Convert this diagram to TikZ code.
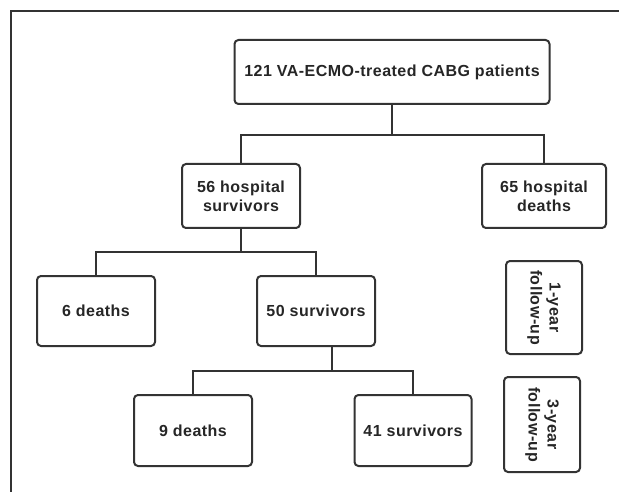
\documentclass[tikz,border=0pt]{standalone}
\usepackage{fontspec}
\setmainfont{Liberation Sans}[LetterSpace=3]
\begin{document}
\begin{tikzpicture}[x=1pt, y=-1pt,
    box/.style={draw=black!80, line width=2pt, rounded corners=4pt, fill=white,
        font=\bfseries\fontsize{16}{19}\selectfont, text=black!85, align=center, inner sep=0pt},
    link/.style={draw=black!80, line width=2pt}]
    \useasboundingbox (0,0) rectangle (619,492);

    % Frame
    \draw[black!80, line width=1.4pt] (619,11) -- (11,11) -- (11,492);

    % Hospital stage
    \node[box, minimum width=315, minimum height=64] (all) at (392,72) {121 VA-ECMO-treated CABG patients};
    \node[box, minimum width=118, minimum height=64] (hsurv) at (241,196) {56 hospital\\survivors};
    \node[box, minimum width=124, minimum height=64] (hdeath) at (544,196) {65 hospital\\deaths};

    % 1-year follow-up
    \node[box, minimum width=118, minimum height=70] (death1) at (96,311) {6 deaths};
    \node[box, minimum width=118, minimum height=70] (surv1) at (316,311) {50 survivors};

    % 3-year follow-up
    \node[box, minimum width=118, minimum height=71] (death3) at (193,430.5) {9 deaths};
    \node[box, minimum width=117, minimum height=71] (surv3) at (413,430.5) {41 survivors};

    % Stage labels
    \node[box, rotate=-90, minimum width=93, minimum height=76] (fu1) at (544,307.5) {1-year\\follow-up};
    \node[box, rotate=-90, minimum width=95, minimum height=76] (fu3) at (542,424.5) {3-year\\follow-up};

    % Branches
    \coordinate (j1) at (392,135);
    \draw[link] (all.south) -- (j1);
    \draw[link] (hsurv.north) |- (j1) -| (hdeath.north);

    \coordinate (j2) at (241,252);
    \draw[link] (hsurv.south) -- (j2);
    \draw[link] (death1.north) |- (j2) -| (surv1.north);

    \coordinate (j3) at (332,371);
    \draw[link] (surv1.south -| j3) -- (j3);
    \draw[link] (death3.north) |- (j3) -| (surv3.north);

\end{tikzpicture}
\end{document}
